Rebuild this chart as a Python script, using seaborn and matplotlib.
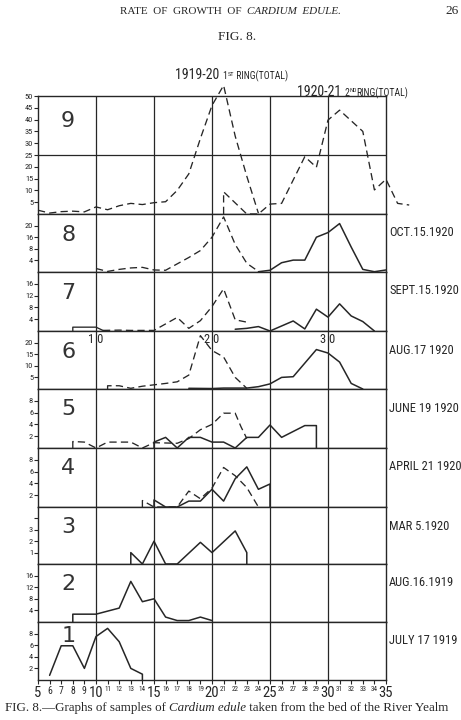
import matplotlib
matplotlib.use("Agg")
import matplotlib.pyplot as plt
import seaborn as sns
import pandas as pd
from matplotlib import font_manager

sns.set_theme(style="white")
plt.rcParams["font.family"] = ["DejaVu Sans"]

_names = {f.name for f in font_manager.fontManager.ttflist}
NARROW = next((n for n in ["Liberation Sans Narrow", "DejaVu Sans Condensed", "Roboto Condensed"] if n in _names), "DejaVu Sans")
SERIF = "Liberation Serif" if "Liberation Serif" in _names else "DejaVu Serif"

# ---------------- data ----------------
# panel 9 (totals)
p9_ring1_x = [5, 6, 7, 8, 9, 10, 11, 12, 13, 14, 15, 16, 17, 18, 19, 20, 21, 22, 23, 24]
p9_ring1_y = [1.6, 0.4, 1.0, 1.2, 0.9, 3.0, 1.8, 3.5, 4.5, 4.0, 4.8, 5.2, 10, 17, 32, 46, 54.5, 33, 16, 0.3]
p9_ring2_x = [21, 21, 23, 24, 25, 26, 28, 29, 30, 31, 33, 34, 35, 36, 37]
p9_ring2_y = [0, 9.4, 0, 0, 4.2, 4.5, 24.3, 19.8, 39.8, 44, 35, 10.2, 14.7, 4.5, 3.8]
# panel 8  Oct 15 1920
p8_dash_x = [10, 11, 12, 13, 14, 15, 16, 17, 18, 19, 20, 21, 22, 23, 24]
p8_dash_y = [1.2, 0.2, 0.9, 1.4, 1.6, 0.7, 0.6, 2.8, 5.0, 7.4, 12, 19, 9.5, 3.0, 0.2]
p8_solid_x = [24, 25, 26, 27, 28, 29, 30, 31, 32, 33, 34, 35]
p8_solid_y = [0.1, 0.6, 3.2, 4.1, 4.1, 12, 13.6, 16.7, 8.6, 0.9, 0.1, 0.7]
# panel 7  Sept 15 1920
p7_first_x = [8, 8, 10, 10.6]
p7_first_y = [0, 1.3, 1.3, 0.2]
p7_dash_x = [10.6, 12, 13, 14, 15, 17, 18, 19, 20, 21, 22, 23]
p7_dash_y = [0.2, 0.3, 0.2, 0.2, 0.2, 4.6, 0.9, 3.5, 8.3, 14.3, 3.8, 3.0]
p7_solid_x = [22, 23, 24, 25, 27, 28, 29, 30, 31, 32, 33, 34]
p7_solid_y = [0.6, 0.9, 1.5, 0, 3.4, 0.7, 7.4, 4.7, 9.2, 5.1, 3.2, 0]
# panel 6  Aug 17 1920
p6_dash_x = [11, 11, 12, 13, 14, 16, 17, 18, 19, 20, 21, 22, 23]
p6_dash_y = [0, 1.4, 1.4, 0.3, 1.2, 2.4, 3.1, 6, 23, 16.6, 13.8, 5, 0.3]
p6_solid_x = [18, 20, 21, 23, 24, 25, 26, 27, 29, 30, 31, 32, 33]
p6_solid_y = [0.3, 0.2, 0.4, 0.4, 1, 2.2, 5, 5.3, 17, 15.5, 11.6, 2.4, 0]
# panel 5  June 19 1920
p5_dash_x = [8, 8, 9, 10, 11, 13, 14, 15, 17, 18, 19, 20, 21, 22, 22.5, 23]
p5_dash_y = [0, 1.1, 1.0, 0, 1, 1, 0, 0.9, 0.8, 1.6, 3.1, 4, 5.9, 5.9, 3.6, 1.6]
p5_solid_x = [15, 15, 16, 17, 18, 19, 20, 21, 22, 23, 24, 25, 26, 28, 29, 29]
p5_solid_y = [0, 1, 1.8, 0, 1.8, 1.8, 1, 1, 0, 1.8, 1.8, 3.9, 1.8, 3.8, 3.8, 0]
# panel 4  April 21 1920
p4_dash_x = [14, 14, 15, 16, 17, 18, 19, 20, 21, 22, 23, 24]
p4_dash_y = [0, 1.1, 0, 0, 0, 2.7, 1.4, 3.2, 6.7, 5.3, 3.3, 0]
p4_solid_x = [15, 15, 16, 17, 18, 19, 20, 21, 22, 23, 24, 25, 25]
p4_solid_y = [0, 1.2, 0, 0, 1, 1, 3, 1, 4.8, 6.8, 3, 3.9, 0]
# panel 3  Mar 5 1920
p3_solid_x = [13, 13, 14, 15, 16, 17, 19, 20, 22, 23, 23]
p3_solid_y = [0, 1, 0, 2, 0, 0, 1.9, 1, 2.9, 1, 0]
# panel 2  Aug 16 1919
p2_solid_x = [8, 8, 10, 12, 13, 14, 15, 16, 17, 18, 19, 20]
p2_solid_y = [0, 2.7, 2.7, 4.8, 14, 7, 8, 1.7, 0.5, 0.5, 1.7, 0.5]
# panel 1  July 17 1919
p1_solid_x = [6, 7, 8, 9, 10, 11, 12, 13, 14, 14]
p1_solid_y = [0.8, 5.9, 5.9, 2, 7.5, 8.9, 6.6, 2, 1, 0]

panel_numbers = ["9", "8", "7", "6", "5", "4", "3", "2", "1"]
panel_dates = [None, "OCT.15.1920", "SEPT.15.1920", "AUG.17 1920", "JUNE 19 1920",
               "APRIL 21 1920", "MAR 5.1920", "AUG.16.1919", "JULY 17 1919"]
panel_ymax = [50, 20, 20, 25, 10, 10, 5, 20, 10]
panel_yticks = [list(range(5, 55, 5)), [4, 8, 12, 16], [4, 8, 12, 16], [5, 10, 15, 20],
                [2, 4, 6, 8], [2, 4, 6, 8], [1, 2, 3, 4], [4, 8, 12, 16], [2, 4, 6, 8]]
panel_ylabels = [[str(v) for v in range(5, 55, 5)], ["4", "8", "16", "20"], ["4", "8", "12", "16"],
                 ["5", "10", "15", "20"], ["2", "4", "6", "8"], ["2", "4", "6", "8"],
                 ["1", "2", "3", ""], ["4", "8", "12", "16"], ["2", "4", "6", "8"]]
x_ticks = list(range(5, 36))
x_major = [5, 10, 15, 20, 25, 30, 35]

series = [
    [("d", p9_ring1_x, p9_ring1_y), ("d", p9_ring2_x, p9_ring2_y)],
    [("d", p8_dash_x, p8_dash_y), ("s", p8_solid_x, p8_solid_y)],
    [("t", p7_first_x, p7_first_y), ("d", p7_dash_x, p7_dash_y), ("s", p7_solid_x, p7_solid_y)],
    [("d", p6_dash_x, p6_dash_y), ("s", p6_solid_x, p6_solid_y)],
    [("d", p5_dash_x, p5_dash_y), ("s", p5_solid_x, p5_solid_y)],
    [("d", p4_dash_x, p4_dash_y), ("s", p4_solid_x, p4_solid_y)],
    [("s", p3_solid_x, p3_solid_y)],
    [("s", p2_solid_x, p2_solid_y)],
    [("s", p1_solid_x, p1_solid_y)],
]

# ---------------- layout ----------------
W, H = 461, 720
fig = plt.figure(figsize=(W / 100, H / 100), dpi=100)
fig.patch.set_facecolor("white")
edges = [96, 214, 272, 331, 389, 448, 507, 564, 622, 680]
num_offset = [25, 21, 21, 21, 20, 20, 20, 20, 14]
L, R = 38, 386
INK = "#262626"

def fx(px):
    return px / W

def fy(py):
    return 1 - py / H

axes = []
for i in range(9):
    top, bot = edges[i], edges[i + 1]
    ax = fig.add_axes([fx(L), fy(bot), (R - L) / W, (bot - top) / H])
    ax.set_facecolor("white")
    ax.set_xlim(5, 35)
    ax.set_ylim(0, panel_ymax[i])
    for xv in [10, 15, 20, 25, 30]:
        ax.axvline(xv, color=INK, lw=0.9, zorder=1)
    if i == 0:
        ax.axhline(25, color=INK, lw=0.9, zorder=1)
    for sp in ax.spines.values():
        sp.set_color(INK)
        sp.set_linewidth(1.0)
    for kind, xs, ys in series[i]:
        df = pd.DataFrame({"x": xs, "y": ys})
        ls = "-" if kind in ("s", "t") else (0, (5.5, 3.2))
        lw = 1.1 if kind == "s" else 0.95
        sns.lineplot(data=df, x="x", y="y", ax=ax, estimator=None, sort=False,
                     color=INK, lw=lw, linestyle=ls, clip_on=(i != 0), zorder=3)
    ax.set_xlabel("")
    ax.set_ylabel("")
    ax.set_yticks(panel_yticks[i])
    ax.set_yticklabels(panel_ylabels[i], fontsize=6, family=NARROW, color=INK)
    ax.tick_params(axis="y", left=True, direction="out", length=3, width=0.8, pad=0.5, colors=INK)
    if i < 8:
        ax.set_xticks([])
    # panel number
    ax.text(7.6, 1 - num_offset[i] / (bot - top), panel_numbers[i], transform=ax.get_xaxis_transform(),
            fontsize=16, ha="center", va="center", color="#333333", family="DejaVu Sans")
    if panel_dates[i]:
        fig.text(fx(389), fy(top + 19), panel_dates[i], fontsize=9, family=NARROW,
                 ha="left", va="center", color=INK)
    axes.append(ax)

# bottom axis ticks
axb = axes[-1]
axb.set_xticks(x_ticks)
axb.set_xticklabels([str(v) for v in x_ticks], family=NARROW, color=INK)
for v, lab in zip(x_ticks, axb.get_xticklabels()):
    if v in x_major:
        lab.set_fontsize(10.5)
    elif v < 10:
        lab.set_fontsize(7)
    else:
        lab.set_fontsize(5)
axb.tick_params(axis="x", bottom=True, direction="out", length=3, width=0.8, pad=1, colors=INK)

# "10", "20", "30" labels inside panel 6
ax6 = axes[3]
for xv, s in [(10, "1 0"), (20, "2 0"), (30, "3 0")]:
    ax6.text(xv, 1 - 9 / (edges[4] - edges[3]), s, transform=ax6.get_xaxis_transform(),
             fontsize=9, ha="center", va="center", color=INK, family=NARROW)

# ---------------- text ----------------
renderer = fig.canvas.get_renderer()

def chain(parts, x0, y):
    x = x0
    for s, kw in parts:
        dy = kw.pop("dy", 0)
        t = fig.text(fx(x), fy(y + dy), s, ha="left", va="center", color=INK, **kw)
        x += t.get_window_extent(renderer).width

chain([("RATE  OF  GROWTH  OF  ", dict(fontsize=8, family=SERIF)),
       ("CARDIUM  EDULE.", dict(fontsize=8, family=SERIF, style="italic"))], 120, 11)
fig.text(fx(445), fy(11), "26", fontsize=9.5, family=SERIF, ha="left", va="center", color=INK)
fig.text(fx(237), fy(37), "FIG. 8.", fontsize=9.5, family=SERIF, ha="center", va="center", color=INK)

chain([("1919-20 ", dict(fontsize=10, family=NARROW)),
       ("1", dict(fontsize=7, family=NARROW, dy=1)),
       ("ST", dict(fontsize=4.5, family=NARROW, dy=-1)),
       (" RING(TOTAL)", dict(fontsize=7, family=NARROW, dy=1))], 175, 75)
chain([("1920-21 ", dict(fontsize=10, family=NARROW)),
       ("2", dict(fontsize=7, family=NARROW, dy=1)),
       ("ND", dict(fontsize=4.5, family=NARROW, dy=-1)),
       ("RING(TOTAL)", dict(fontsize=7, family=NARROW, dy=1))], 297, 92)

chain([("FIG. 8.—Graphs of samples of ", dict(fontsize=9.4, family=SERIF)),
       ("Cardium edule", dict(fontsize=9.4, family=SERIF, style="italic")),
       (" taken from the bed of the River Yealm", dict(fontsize=9.4, family=SERIF))], 5, 708)

fig.savefig("out.png", dpi=100, facecolor="white")
